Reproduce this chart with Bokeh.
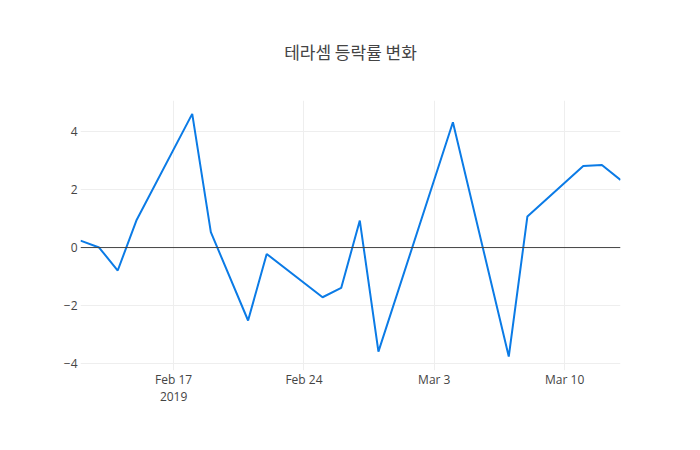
from datetime import datetime
from bokeh.plotting import figure
from bokeh.models import FixedTicker, Range1d, Span, Title
from bokeh.embed import file_html
from bokeh.resources import INLINE

dates = ["2019-02-12", "2019-02-13", "2019-02-14", "2019-02-15", "2019-02-18",
         "2019-02-19", "2019-02-21", "2019-02-22", "2019-02-25", "2019-02-26",
         "2019-02-27", "2019-02-28", "2019-03-04", "2019-03-07", "2019-03-08",
         "2019-03-11", "2019-03-12", "2019-03-13"]
change = [0.24, 0.0, -0.79, 0.93, 4.6,
          0.53, -2.51, -0.22, -1.71, -1.39,
          0.93, -3.58, 4.31, -3.75, 1.07,
          2.81, 2.84, 2.33]
x_tick_dates = ["2019-02-17", "2019-02-24", "2019-03-03", "2019-03-10"]
x_tick_labels = ["Feb 17\n2019", "Feb 24", "Mar 3", "Mar 10"]
y_ticks = [-4, -2, 0, 2, 4]
y_tick_labels = ["\u22124", "\u22122", "0", "2", "4"]
title_text = "테라셈 등락률 변화"

xs = [datetime.strptime(d, "%Y-%m-%d") for d in dates]
tick_dt = [datetime.strptime(d, "%Y-%m-%d") for d in x_tick_dates]
epoch = datetime(1970, 1, 1)
tick_ms = [(t - epoch).total_seconds() * 1000.0 for t in tick_dt]

p = figure(width=684, height=434, x_axis_type="datetime", output_backend="svg",
           toolbar_location=None,
           x_range=Range1d(xs[0], xs[-1]), y_range=Range1d(-4.23, 5.06),
           min_border_left=80, min_border_right=64, min_border_top=100, min_border_bottom=64)
p.title = Title(text=title_text, align="center", text_font="Noto Sans CJK KR",
                text_font_size="17px", text_color="#444444", text_font_style="normal",
                vertical_align="top", standoff=70)
p.outline_line_color = None
p.background_fill_color = "white"
p.border_fill_color = "white"

p.line(xs, change, line_color="#0b7be6", line_width=2)

p.add_layout(Span(location=0, dimension="width", line_color="#444444", line_width=1))

xa = p.xaxis[0]
xa.ticker = FixedTicker(ticks=tick_ms)
xa.major_label_overrides = {t: l for t, l in zip(tick_ms, x_tick_labels)}
ya = p.yaxis[0]
ya.ticker = FixedTicker(ticks=y_ticks)
ya.major_label_overrides = {t: l for t, l in zip(y_ticks, y_tick_labels)}
for ax in (xa, ya):
    ax.axis_line_color = None
    ax.major_tick_line_color = None
    ax.minor_tick_line_color = None
    ax.major_tick_out = 0
    ax.minor_tick_out = 0
    ax.major_label_text_font = "Open Sans"
    ax.major_label_text_font_size = "12px"
    ax.major_label_text_color = "#444444"
xa.major_label_standoff = 0
xa.major_label_text_line_height = 1.0
ya.major_label_standoff = 3

p.xgrid.grid_line_color = "#eeeeee"
p.ygrid.grid_line_color = "#eeeeee"

open("out.html", "w").write(file_html(p, INLINE))
